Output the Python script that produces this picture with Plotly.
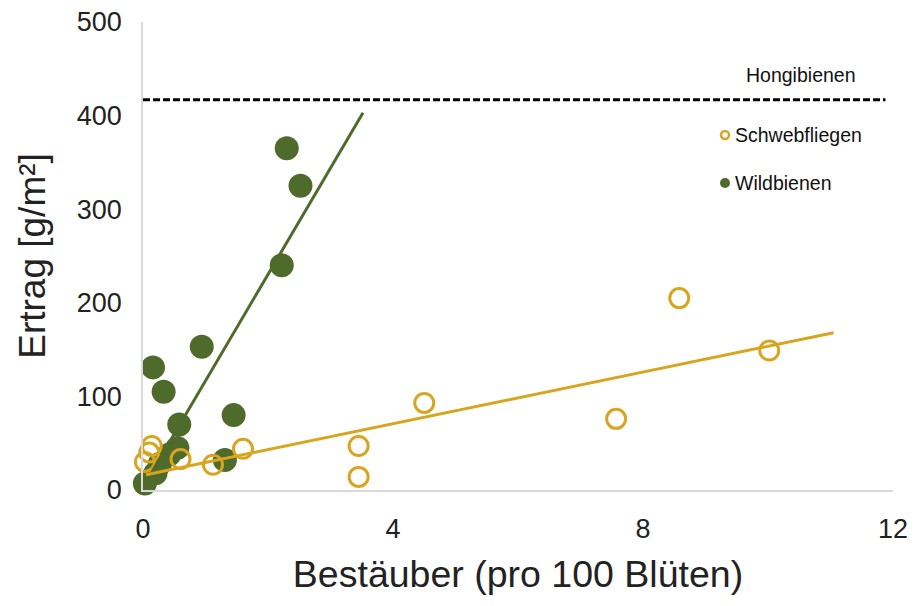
import plotly.graph_objects as go

# Hoverfly visits vs. yield
schweb_x = [0.03, 0.10, 0.14, 0.60, 1.12, 1.60, 3.45, 3.45, 4.50, 7.57, 8.58, 10.02]
schweb_y = [30, 40, 47, 33, 27, 44, 47, 14, 93, 76, 205, 149]

# Wild bee visits vs. yield
wild_x = [0.03, 0.16, 0.33, 0.94, 1.45, 0.58, 0.55, 0.42, 0.27, 1.31, 0.20, 2.30, 2.52, 2.22]
wild_y = [7, 131, 105, 153, 80, 70, 45, 38, 28, 32, 18, 365, 325, 240]

# Linear trend lines (end points)
schweb_fit_x = [0.05, 11.05]
schweb_fit_y = [16.3, 168.1]
wild_fit_x = [0.15, 3.52]
wild_fit_y = [20, 403]

# Honeybee reference yield
honig_x = [0, 11.88]
honig_y = [417, 417]

x_ticks = [0, 4, 8, 12]
y_ticks = [0, 100, 200, 300, 400, 500]

YELLOW = "#D8A520"
GREEN = "#4E6B2B"
FONT = "Liberation Sans, Arial, sans-serif"

fig = go.Figure()

fig.add_trace(go.Scatter(
    x=honig_x, y=honig_y, mode="lines",
    line=dict(color="black", width=3, dash="7px,3px"),
    showlegend=False, hoverinfo="skip"))

fig.add_trace(go.Scatter(
    x=wild_x, y=wild_y, mode="markers", name="Wildbienen",
    marker=dict(symbol="circle", size=24, color=GREEN, line=dict(width=0)),
    cliponaxis=False, showlegend=False))

fig.add_trace(go.Scatter(
    x=schweb_x, y=schweb_y, mode="markers", name="Schwebfliegen",
    marker=dict(symbol="circle-open", size=19, color=YELLOW, line=dict(width=3, color=YELLOW)),
    cliponaxis=False, showlegend=False))

fig.add_trace(go.Scatter(
    x=wild_fit_x, y=wild_fit_y, mode="lines",
    line=dict(color=GREEN, width=3), showlegend=False, hoverinfo="skip"))

fig.add_trace(go.Scatter(
    x=schweb_fit_x, y=schweb_fit_y, mode="lines",
    line=dict(color=YELLOW, width=3), showlegend=False, hoverinfo="skip"))

W, H = 922, 606
L, R, T, B = 143, 29, 22, 116
pw, ph = W - L - R, H - T - B


def px_x(p):
    return (p - L) / pw


def px_y(p):
    return (H - B - p) / ph


# Legend drawn as symbols + labels in paper space
fig.add_shape(type="circle", xref="paper", yref="paper",
              x0=px_x(721), x1=px_x(729), y0=px_y(139), y1=px_y(131),
              line=dict(color=YELLOW, width=2.5), fillcolor="white")
fig.add_shape(type="circle", xref="paper", yref="paper",
              x0=px_x(720), x1=px_x(730), y0=px_y(188), y1=px_y(178),
              line=dict(width=0), fillcolor=GREEN)

fig.add_annotation(x=px_x(733), y=px_y(135), xref="paper", yref="paper",
                   text="Schwebfliegen", showarrow=False, xanchor="left", yanchor="middle",
                   font=dict(family=FONT, size=19.5, color="#111111"))
fig.add_annotation(x=px_x(733), y=px_y(183), xref="paper", yref="paper",
                   text="Wildbienen", showarrow=False, xanchor="left", yanchor="middle",
                   font=dict(family=FONT, size=19.5, color="#111111"))
fig.add_annotation(x=px_x(858), y=px_y(75), xref="paper", yref="paper",
                   text="Hongibienen", showarrow=False, xanchor="right", yanchor="middle",
                   font=dict(family=FONT, size=19.5, color="#111111"))

fig.update_layout(
    width=W, height=H,
    margin=dict(l=L, r=R, t=T, b=B, autoexpand=False),
    paper_bgcolor="white", plot_bgcolor="white",
    font=dict(family=FONT, color="#222222"),
    showlegend=False,
)

fig.update_xaxes(
    range=[0, 12], tickvals=x_ticks, ticktext=[str(v) for v in x_ticks],
    showgrid=False, zeroline=False, showline=True, linecolor="#D9D9D9", linewidth=1.5,
    ticks="", tickfont=dict(family=FONT, size=27, color="#222222"),
    ticklabelstandoff=14,
    title=dict(text="Bestäuber (pro 100 Blüten)", font=dict(family=FONT, size=37.5, color="#222222"),
               standoff=18),
    automargin=False,
)
fig.update_yaxes(
    range=[0, 500], tickvals=y_ticks, ticktext=[str(v) for v in y_ticks],
    showgrid=False, zeroline=False, showline=True, linecolor="#D9D9D9", linewidth=1.5,
    ticks="", tickfont=dict(family=FONT, size=27, color="#222222"),
    ticklabelstandoff=14,
    title=dict(text="Ertrag [g/m²]", font=dict(family=FONT, size=37, color="#222222"),
               standoff=20),
    automargin=False,
)

fig.write_html("out.html")
